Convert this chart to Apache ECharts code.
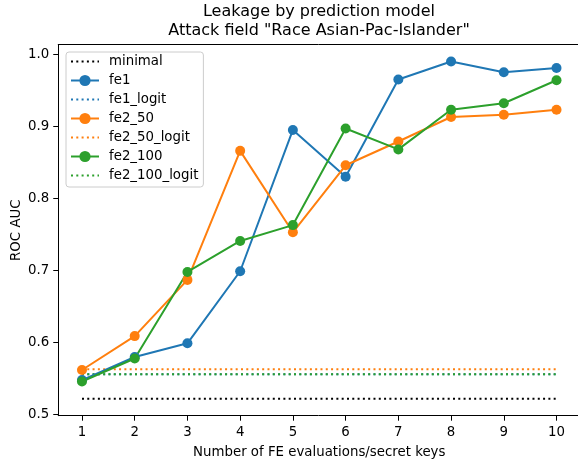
<!DOCTYPE html>
<html>
<head>
<meta charset="utf-8">
<script src="https://cdn.jsdelivr.net/npm/echarts@6/dist/echarts.min.js"></script>
<style>html,body{margin:0;padding:0;background:#fff}#c{width:578px;height:464px}</style>
</head>
<body>
<div id="c"></div>
<script>
var xValues = [1, 2, 3, 4, 5, 6, 7, 8, 9, 10];
var minimal = [0.522, 0.522, 0.522, 0.522, 0.522, 0.522, 0.522, 0.522, 0.522, 0.522];
var fe1 = [0.548, 0.580, 0.599, 0.699, 0.895, 0.830, 0.965, 0.990, 0.975, 0.981];
var fe1_logit = [0.556, 0.556, 0.556, 0.556, 0.556, 0.556, 0.556, 0.556, 0.556, 0.556];
var fe2_50 = [0.562, 0.609, 0.687, 0.866, 0.753, 0.846, 0.879, 0.913, 0.916, 0.923];
var fe2_50_logit = [0.563, 0.563, 0.563, 0.563, 0.563, 0.563, 0.563, 0.563, 0.563, 0.563];
var fe2_100 = [0.546, 0.578, 0.698, 0.741, 0.763, 0.897, 0.868, 0.923, 0.932, 0.964];
var fe2_100_logit = [0.556, 0.556, 0.556, 0.556, 0.556, 0.556, 0.556, 0.556, 0.556, 0.556];
var yTicks = [0.5, 0.6, 0.7, 0.8, 0.9, 1.0];
var xTicks = [1, 2, 3, 4, 5, 6, 7, 8, 9, 10];

var FONT = 'DejaVu Sans';
var FS = 13.33;
function pairs(vals) { return xValues.map(function (x, i) { return [x, vals[i]]; }); }
function solid(name, vals, color) {
  return { name: name, type: 'line', data: pairs(vals), symbol: 'circle', symbolSize: 10,
    lineStyle: { color: color, width: 2 }, itemStyle: { color: color }, animation: false, z: 3 };
}
function dotted(name, vals, color) {
  return { name: name, type: 'line', data: pairs(vals), symbol: 'none', showSymbol: false,
    lineStyle: { color: color, width: 2, type: [2, 3.3] }, itemStyle: { color: color }, animation: false, z: 2 };
}
function legDotted(name) { return { name: name, itemStyle: { opacity: 0 } }; }
var chart = echarts.init(document.getElementById('c'));
chart.setOption({
  animation: false,
  title: {
    text: 'Leakage by prediction model\nAttack field "Race Asian-Pac-Islander"',
    left: 319, top: 2, padding: 0, textAlign: 'center',
    textStyle: { fontFamily: FONT, fontSize: 16, fontWeight: 'normal', color: '#000', lineHeight: 19 }
  },
  grid: { left: 58.25, top: 44.6, right: -2.25, height: 371.1, show: false,
    containLabel: false, outerBoundsMode: 'none' },
  legend: {
    orient: 'vertical', left: 66, top: 52, padding: [3, 5, 5, 4],
    itemWidth: 28, itemHeight: 14, itemGap: 6,
    borderColor: '#ccc', borderWidth: 1, borderRadius: 3, backgroundColor: 'rgba(255,255,255,0.8)',
    textStyle: { fontFamily: FONT, fontSize: FS, color: '#000', padding: [0, 0, 0, 5] },
    data: [legDotted('minimal'), 'fe1', legDotted('fe1_logit'), 'fe2_50', legDotted('fe2_50_logit'), 'fe2_100', legDotted('fe2_100_logit')]
  },
  xAxis: [{
    type: 'value', min: 0.55, max: 10.45,
    name: 'Number of FE evaluations/secret keys', nameLocation: 'middle', nameGap: 30,
    nameTextStyle: { fontFamily: FONT, fontSize: FS, color: '#000' },
    splitLine: { show: false },
    axisLine: { onZero: false, lineStyle: { color: '#000', width: 1 } },
    axisTick: { show: true, length: 5, lineStyle: { color: '#000' }, customValues: xTicks },
    axisLabel: { fontFamily: FONT, fontSize: FS, color: '#000', margin: 10, customValues: xTicks }
  }, {
    type: 'value', position: 'top', min: 0.55, max: 10.45,
    splitLine: { show: false }, axisTick: { show: false }, axisLabel: { show: false },
    axisLine: { show: true, onZero: false, lineStyle: { color: '#000', width: 1 } }
  }],
  yAxis: {
    type: 'value', min: 0.4986, max: 1.0134,
    name: 'ROC AUC', nameLocation: 'middle', nameGap: 35, nameMoveOverlap: false,
    nameTextStyle: { fontFamily: FONT, fontSize: FS, color: '#000' },
    splitLine: { show: false },
    axisLine: { show: true, onZero: false, lineStyle: { color: '#000', width: 1 } },
    axisTick: { show: true, length: 5, lineStyle: { color: '#000' }, customValues: yTicks },
    axisLabel: { fontFamily: FONT, fontSize: FS, color: '#000', margin: 9, customValues: yTicks,
      formatter: function (v) { return v.toFixed(1); } }
  },
  series: [
    dotted('minimal', minimal, '#000000'),
    solid('fe1', fe1, '#1f77b4'),
    dotted('fe1_logit', fe1_logit, '#1f77b4'),
    solid('fe2_50', fe2_50, '#ff7f0e'),
    dotted('fe2_50_logit', fe2_50_logit, '#ff7f0e'),
    solid('fe2_100', fe2_100, '#2ca02c'),
    dotted('fe2_100_logit', fe2_100_logit, '#2ca02c')
  ]
});
</script>
</body>
</html>
